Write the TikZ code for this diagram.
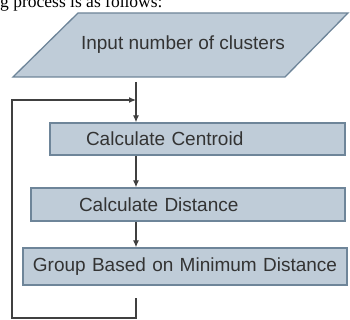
\documentclass[tikz,border=0pt]{standalone}
\usepackage{fontspec}
\setmainfont{Liberation Sans}
\newfontfamily\capfont{Liberation Serif}
\usetikzlibrary{arrows.meta}

\definecolor{boxfill}{HTML}{BFCCD8}
\definecolor{boxline}{HTML}{6E8599}
\definecolor{flowline}{HTML}{404040}
\definecolor{boxtext}{HTML}{333333}

\tikzset{
    stepbox/.style={draw=boxline,fill=boxfill,line width=1.3pt,text=boxtext,
        font=\fontsize{19}{22}\selectfont,minimum height=33pt,inner ysep=0pt},
    flow/.style={draw=flowline,line width=1.2pt},
    flowarrow/.style={flow,-{Latex[length=7pt,width=6pt]}}
}

\begin{document}
\begin{tikzpicture}[x=1pt,y=-1pt]
    \useasboundingbox (0,0) rectangle (350,320);
    \node (caption) [anchor=base west,inner sep=0pt,font=\capfont\fontsize{17.5}{20}\selectfont] at (0,8) {g process is as follows:};

    % input parallelogram
    \draw[draw=boxline,fill=boxfill,line width=1.3pt] (78,13) -- (348,13) -- (285,77) -- (13,77) -- cycle;
    \node (input) [text=boxtext,font=\fontsize{19}{22}\selectfont] at (183,45) {Input number of clusters};

    \node (centroid) [stepbox,text width=223pt,inner xsep=36pt,align=left,minimum height=32pt] at (197.5,139) {Calculate Centroid};
    \node (distance) [stepbox,text width=218pt,inner xsep=48pt,align=left] at (188,204.5) {Calculate Distance};
    \node (group) [stepbox,text width=310pt,inner xsep=7pt,align=center,minimum height=37pt] at (185,266.5) {Group Based on Minimum Distance};

    \coordinate (top) at (136,82);
    \coordinate (merge) at (136,100);
    \coordinate (back) at (136,298);
    \coordinate (corner1) at (12,318);
    \coordinate (corner2) at (12,100);

    \draw[flowarrow] (top) -- (top |- centroid.north);
    \draw[flowarrow] (top |- centroid.south) -- (top |- distance.north);
    \draw[flowarrow] (top |- distance.south) -- (top |- group.north);
    \draw[flowarrow] (back) |- (corner1) -- (corner2) -- (merge);
\end{tikzpicture}
\end{document}
